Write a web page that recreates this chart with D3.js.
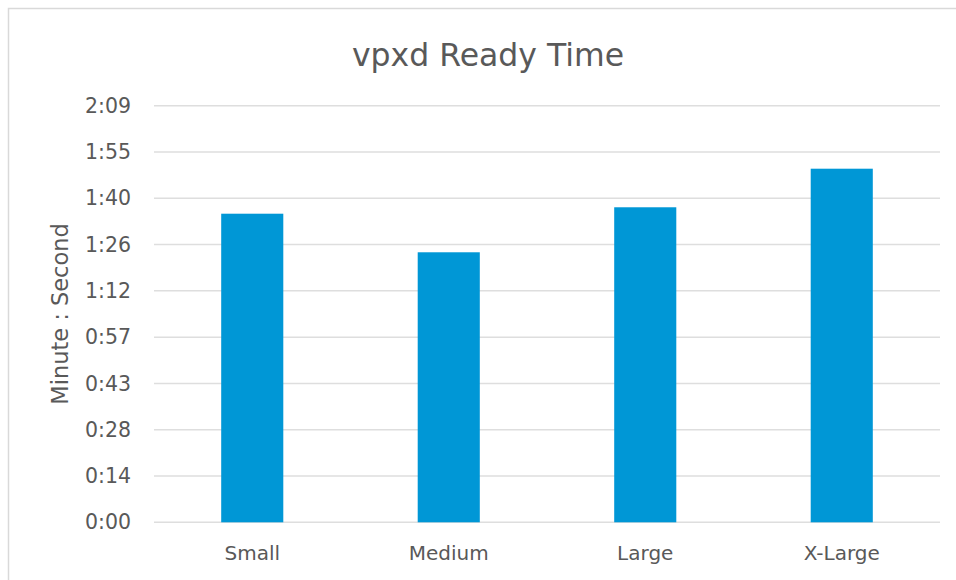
<!DOCTYPE html>
<html>
<head>
<meta charset="utf-8">
<script src="https://cdn.jsdelivr.net/npm/d3@7"></script>
<style>
  body { margin: 0; background: #fff; }
  svg { display: block; font-family: "DejaVu Sans", sans-serif; }
</style>
</head>
<body>
<svg id="chart" width="956" height="580"></svg>
<script>
const categories = ["Small", "Medium", "Large", "X-Large"];
const readySeconds = [96, 84, 98, 110];
const tickSeconds = [0, 14.4, 28.8, 43.2, 57.6, 72, 86.4, 100.8, 115.2, 129.6];
const tickLabels = ["0:00", "0:14", "0:28", "0:43", "0:57", "1:12", "1:26", "1:40", "1:55", "2:09"];

const width = 956, height = 580;
const margin = { left: 154, right: 16, top: 105.7, bottom: 57.7 };
const svg = d3.select("#chart");

// outer chart border, runs off the right and bottom edges like the screenshot
svg.append("rect")
  .attr("x", 8.5).attr("y", 8.5)
  .attr("width", 960).attr("height", 600)
  .attr("fill", "none")
  .attr("stroke", "#d9d9d9")
  .attr("stroke-width", 1.5);

const x = d3.scaleBand()
  .domain(categories)
  .range([margin.left, width - margin.right])
  .padding(0);

const y = d3.scaleLinear()
  .domain([0, 129.6])
  .range([height - margin.bottom, margin.top]);

const barWidth = x.bandwidth() * 0.316;

// gridlines
svg.append("g")
  .selectAll("line")
  .data(tickSeconds)
  .join("line")
  .attr("x1", margin.left)
  .attr("x2", width - margin.right)
  .attr("y1", d => y(d))
  .attr("y2", d => y(d))
  .attr("stroke", "#dedede")
  .attr("stroke-width", 1.5);

// y tick labels
svg.append("g")
  .selectAll("text")
  .data(tickSeconds)
  .join("text")
  .attr("x", 131)
  .attr("y", d => y(d))
  .attr("dy", "0.35em")
  .attr("text-anchor", "end")
  .attr("fill", "#595959")
  .style("font-size", "20.5px")
  .text((d, i) => tickLabels[i]);

// bars
svg.append("g")
  .selectAll("rect")
  .data(readySeconds)
  .join("rect")
  .attr("x", (d, i) => x(categories[i]) + (x.bandwidth() - barWidth) / 2)
  .attr("y", d => y(d))
  .attr("width", barWidth)
  .attr("height", d => y(0) - y(d))
  .attr("fill", "#0097d6");

// category labels
svg.append("g")
  .selectAll("text")
  .data(categories)
  .join("text")
  .attr("x", d => x(d) + x.bandwidth() / 2)
  .attr("y", 560)
  .attr("text-anchor", "middle")
  .attr("fill", "#595959")
  .style("font-size", "20px")
  .text(d => d);

// y axis title
svg.append("text")
  .attr("transform", "translate(60, 314) rotate(-90)")
  .attr("dy", "0.35em")
  .attr("text-anchor", "middle")
  .attr("fill", "#595959")
  .style("font-size", "22.5px")
  .text("Minute : Second");

// chart title
svg.append("text")
  .attr("x", 488)
  .attr("y", 66)
  .attr("text-anchor", "middle")
  .attr("fill", "#595959")
  .style("font-size", "31.5px")
  .text("vpxd Ready Time");
</script>
</body>
</html>
